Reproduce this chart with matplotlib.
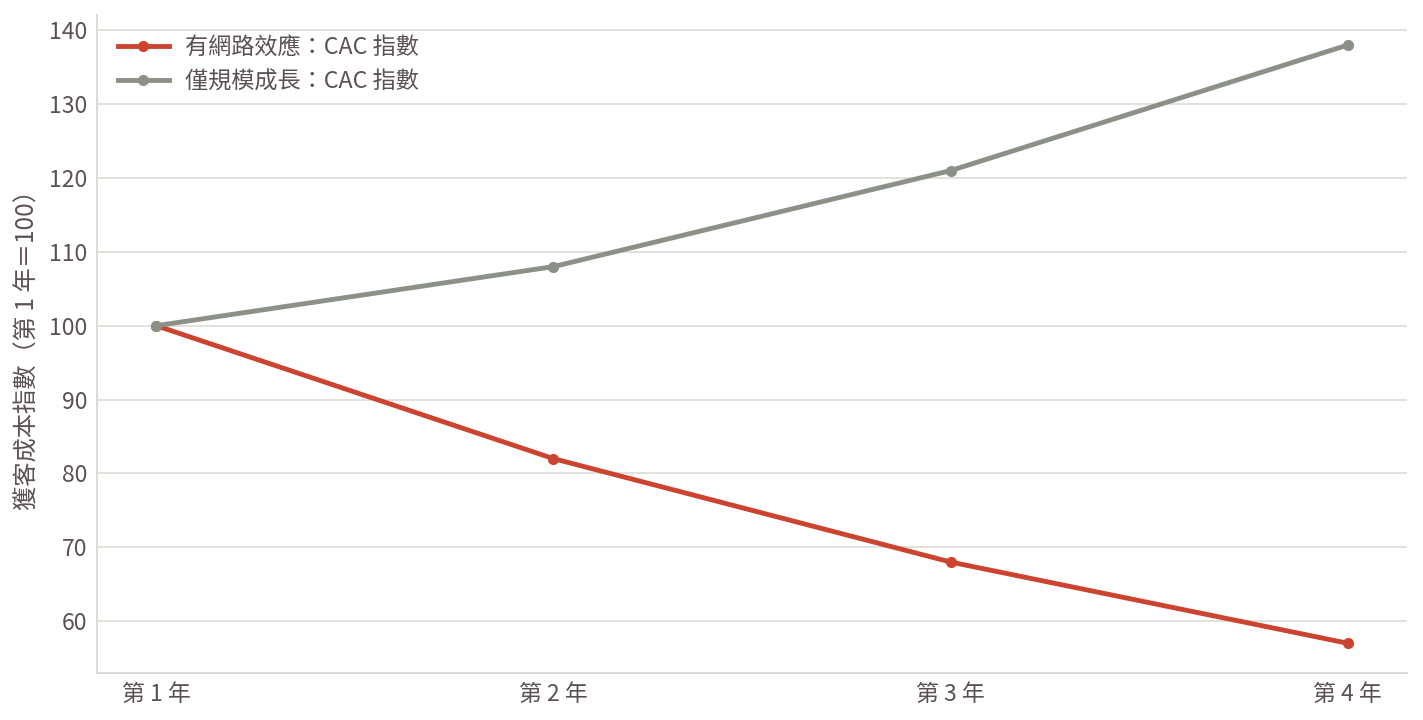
import matplotlib
matplotlib.use("Agg")
import matplotlib.pyplot as plt

plt.rcParams['font.family'] = ['Noto Sans CJK TC', 'DejaVu Sans']

# data
years = ['第 1 年', '第 2 年', '第 3 年', '第 4 年']
network_cac = [100, 82, 68, 57]
scale_cac = [100, 108, 121, 138]
labels = ['有網路效應：CAC 指數', '僅規模成長：CAC 指數']

text_color = '#5b5152'
grid_color = '#dedbd6'

fig = plt.figure(figsize=(14.23, 7.2), dpi=100)
ax = fig.add_axes([0.068, 0.065, 0.921, 0.914])

x = list(range(len(years)))
ax.plot(x, network_cac, color='#cc4430', linewidth=3.5, marker='o', markersize=7,
        label=labels[0], zorder=3)
ax.plot(x, scale_cac, color='#8c9188', linewidth=3.5, marker='o', markersize=7,
        label=labels[1], zorder=3)

ax.set_xticks(x)
ax.set_xticklabels(years)
ax.set_yticks([60, 70, 80, 90, 100, 110, 120, 130, 140])
ax.tick_params(length=0, labelsize=16.5, labelcolor=text_color, pad=7)
ax.set_ylabel('獲客成本指數（第 1 年＝100）', fontsize=17.5, color=text_color, labelpad=6)

ax.grid(axis='y', color=grid_color, linewidth=1.2)
ax.set_axisbelow(True)
for side in ['top', 'right']:
    ax.spines[side].set_visible(False)
for side in ['left', 'bottom']:
    ax.spines[side].set_color(grid_color)
    ax.spines[side].set_linewidth(1.5)

leg = ax.legend(loc='upper left', frameon=False, fontsize=16.7, handlelength=2.2,
                labelspacing=0.5, borderaxespad=0.5, handletextpad=0.7)
for t in leg.get_texts():
    t.set_color(text_color)

fig.savefig('out.png', dpi=100)
